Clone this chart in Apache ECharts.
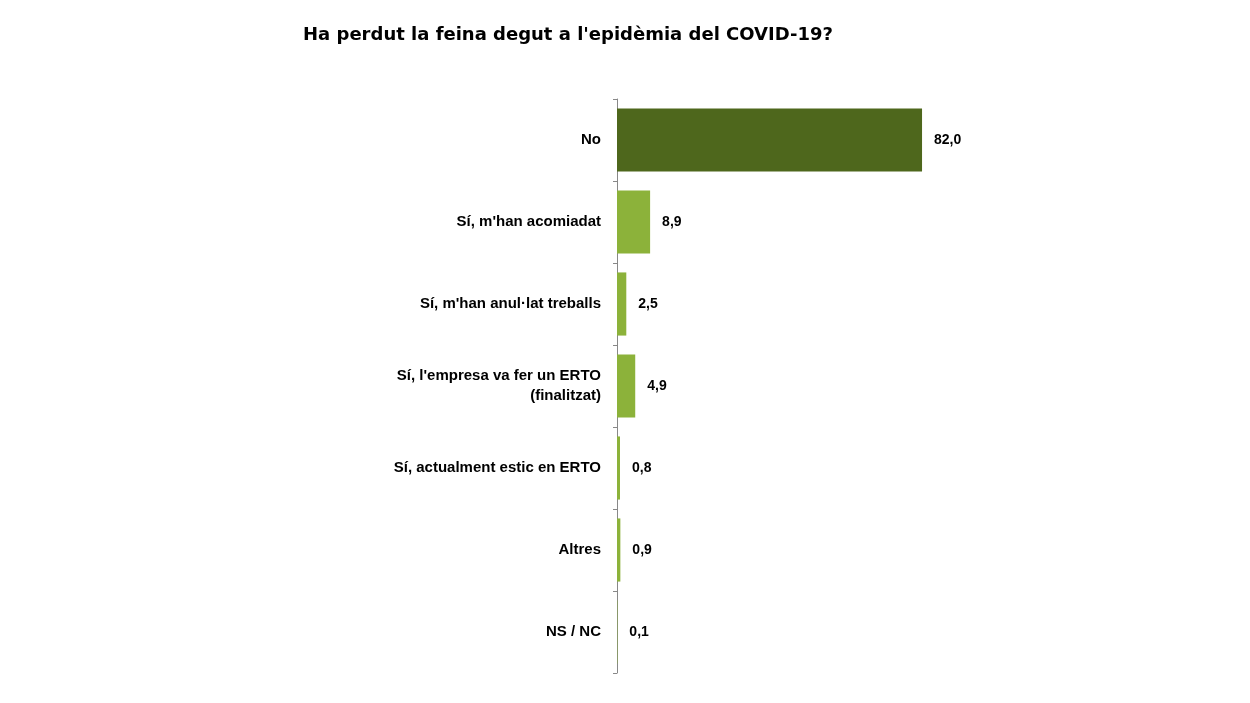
<!DOCTYPE html>
<html><head><meta charset="utf-8">
<script src="https://cdn.jsdelivr.net/npm/echarts@6/dist/echarts.min.js"></script>
<style>html,body{margin:0;background:#fff}#c{width:1250px;height:703px}</style>
</head><body><div id="c"></div>
<script>
const categories = ["No","Sí, m'han acomiadat","Sí, m'han anul·lat treballs","Sí, l'empresa va fer un ERTO\n(finalitzat)","Sí, actualment estic en ERTO","Altres","NS / NC"];
const values = [82.0, 8.9, 2.5, 4.9, 0.8, 0.9, 0.1];
const colors = ["#4e671c","#8cb23a","#8cb23a","#8cb23a","#8cb23a","#8cb23a","#8cb23a"];
const chart = echarts.init(document.getElementById('c'));
chart.setOption({
  animation:false,
  title:{text:"Ha perdut la feina degut a l'epidèmia del COVID-19?",left:563,textAlign:'center',top:21,
    textStyle:{fontFamily:'DejaVu Sans',fontSize:18,fontWeight:'bold',color:'#000'}},
  grid:{left:617,top:99,width:372,height:574},
  xAxis:{type:'value',min:0,max:100,show:false},
  yAxis:{type:'category',inverse:true,data:categories,
    axisLine:{lineStyle:{color:'#888'}},
    axisTick:{show:true,length:4,lineStyle:{color:'#888'}},
    axisLabel:{margin:16,fontFamily:'Liberation Sans',fontSize:15,fontWeight:'bold',color:'#000',lineHeight:20}},
  series:[{type:'bar',barWidth:'77%',
    data:values.map((v,i)=>({value:v,itemStyle:{color:colors[i]}})),
    label:{show:true,position:'right',distance:12,fontFamily:'Liberation Sans',fontSize:14,fontWeight:'bold',color:'#000',
      formatter:p=>p.value.toFixed(1).replace('.',',')}}]
});
</script></body></html>
